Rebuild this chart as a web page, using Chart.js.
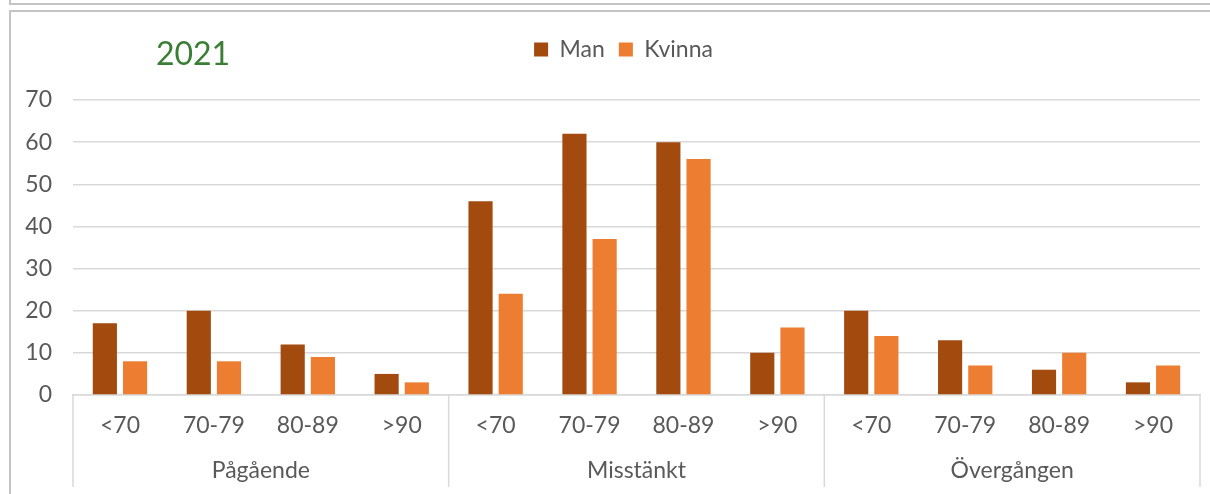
<!DOCTYPE html>
<html>
<head>
<meta charset="utf-8">
<script src="https://cdn.jsdelivr.net/npm/chart.js@4"></script>
<style>
  body { margin: 0; background: #fff; overflow: hidden; }
  #wrap { position: relative; width: 1210px; height: 494px; }
  #sell-chart { position: absolute; left: 0; top: 0; }
  .frame { position: absolute; box-sizing: border-box; border: 2px solid #c4c4c4; pointer-events: none; }
</style>
</head>
<body>
<div id="wrap">
  <canvas id="sell-chart" width="1210" height="494"></canvas>
  <div class="frame" style="left:9px; top:-20px; width:1210px; height:25px;"></div>
  <div class="frame" style="left:9px; top:10px; width:1210px; height:500px; border-right:none; border-bottom:none;"></div>
</div>
<script>
const chartTitle = '2021';
const groups = ['Pågående', 'Misstänkt', 'Övergången'];
const ageBands = ['<70', '70-79', '80-89', '>90'];
const man = [17, 20, 12, 5, 46, 62, 60, 10, 20, 13, 6, 3];
const kvinna = [8, 8, 9, 3, 24, 37, 56, 16, 14, 7, 10, 7];
const yMin = 0, yMax = 70, yStep = 10;

const textColor = '#595959';
const lineColor = '#d9d9d9';
const font = 'Lato';

// title + group labels + separators under the category axis
const extras = {
    id: 'extras',
    afterLayout(chart) {
        // nudge the legend a bit left, like the original
        chart.legend.left -= 13;
        chart.legend.right -= 13;
    },
    afterDraw(chart) {
        const ctx = chart.ctx;
        const x = chart.scales.x;
        const n = chart.data.labels.length;
        const half = (x.right - x.left) / n / 2;
        ctx.save();
        ctx.font = '32px ' + font;
        ctx.fillStyle = '#3a7d35';
        ctx.textAlign = 'center';
        ctx.textBaseline = 'middle';
        ctx.fillText(chartTitle, x.left + 120, 55);

        ctx.strokeStyle = lineColor;
        ctx.lineWidth = 1.5;
        ctx.font = '23px ' + font;
        ctx.fillStyle = textColor;
        groups.forEach((g, i) => {
            const first = i * ageBands.length;
            const last = first + ageBands.length - 1;
            const l = x.getPixelForValue(first) - half;
            const r = x.getPixelForValue(last) + half;
            ctx.beginPath();
            ctx.moveTo(l, x.top);
            ctx.lineTo(l, x.top + 92);
            if (i === groups.length - 1) {
                ctx.moveTo(r, x.top);
                ctx.lineTo(r, x.top + 92);
            }
            ctx.stroke();
            ctx.fillText(g, (l + r) / 2, x.top + 76);
        });
        ctx.restore();
    }
};

new Chart(
    document.getElementById('sell-chart'),
    {
        type: 'bar',
        data: {
            labels: groups.flatMap(() => ageBands),
            datasets: [{
                label: 'Man',
                data: man,
                backgroundColor: '#a34a0f',
                categoryPercentage: 0.643,
                barPercentage: 0.8
            }, {
                label: 'Kvinna',
                data: kvinna,
                backgroundColor: '#ed7d31',
                categoryPercentage: 0.643,
                barPercentage: 0.8
            }]
        },
        options: {
            responsive: false,
            animation: false,
            devicePixelRatio: 1,
            layout: {
                padding: { top: 24, left: 10, right: 10, bottom: 0 }
            },
            plugins: {
                legend: {
                    display: true,
                    position: 'top',
                    fullSize: false,
                    labels: {
                        boxWidth: 14,
                        boxHeight: 14,
                        padding: 14,
                        color: textColor,
                        font: { size: 23, family: font }
                    }
                },
                // empty spacer between legend and plot
                subtitle: {
                    display: true,
                    text: '',
                    position: 'top',
                    fullSize: false,
                    weight: 500,
                    padding: 0,
                    font: { size: 29, lineHeight: 1 }
                },
                tooltip: { enabled: false }
            },
            scales: {
                x: {
                    grid: { display: false },
                    border: { display: true, color: lineColor, width: 1.5 },
                    ticks: {
                        color: textColor,
                        padding: 9,
                        maxRotation: 0,
                        autoSkip: false,
                        font: { size: 23, family: font }
                    },
                    afterFit(scale) { scale.height = 99; }
                },
                y: {
                    min: yMin,
                    max: yMax,
                    grid: { color: lineColor, lineWidth: 1.5, drawTicks: false },
                    border: { display: false },
                    ticks: {
                        stepSize: yStep,
                        color: textColor,
                        padding: 21,
                        font: { size: 23, family: font }
                    },
                    afterFit(scale) { scale.width = 63; }
                }
            }
        },
        plugins: [extras]
    }
);
</script>
</body>
</html>
